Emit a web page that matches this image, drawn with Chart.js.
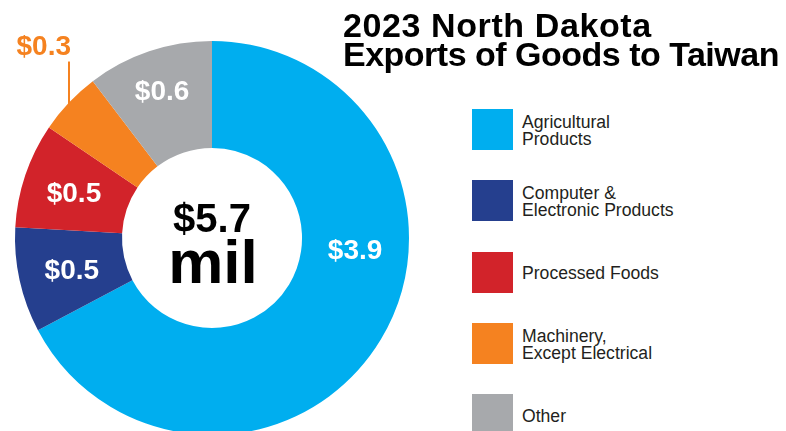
<!DOCTYPE html>
<html>
<head>
<meta charset="utf-8">
<script src="https://cdn.jsdelivr.net/npm/chart.js@4.4.1/dist/chart.umd.min.js"></script>
<style>
    html, body {
        margin: 0;
        padding: 0;
        width: 786px;
        height: 431px;
        overflow: hidden;
        background: #fff;
        font-family: "Liberation Sans", Arial, sans-serif;
    }
    .chart-box {
        position: absolute;
        left: 0;
        top: 0;
        width: 420px;
        height: 440px;
    }
    .title {
        position: absolute;
        left: 343px;
        top: 11px;
        font-size: 34px;
        line-height: 29px;
        font-weight: bold;
        color: #000;
        white-space: nowrap;
    }
    .title .l1 { letter-spacing: 0.6px; }
    .title .l2 { letter-spacing: -0.5px; }
    .legend {
        position: absolute;
        left: 472px;
        top: 109px;
    }
    .legend-row {
        display: flex;
        align-items: center;
        height: 41px;
        margin-bottom: 30.3px;
    }
    .legend-swatch {
        width: 41px;
        height: 41px;
        flex: none;
    }
    .legend-text {
        margin-left: 9px;
        padding-top: 3px;
        font-size: 17.6px;
        line-height: 17px;
        color: #231f20;
        letter-spacing: 0px;
    }
</style>
</head>
<body>
<div class="chart-box"><canvas id="exportsChart"></canvas></div>
<div class="title"><div class="l1">2023 North Dakota</div><div class="l2">Exports of Goods to Taiwan</div></div>
<div class="legend" id="legend"></div>

<script>
// Data
const categories = ['Agricultural Products', 'Computer & Electronic Products', 'Processed Foods', 'Machinery, Except Electrical', 'Other'];
const legendLines = [['Agricultural', 'Products'], ['Computer &', 'Electronic Products'], ['Processed Foods'], ['Machinery,', 'Except Electrical'], ['Other']];
const values = [3.9, 0.5, 0.5, 0.3, 0.6];
const colors = ['#00aeef', '#253f8e', '#d2232a', '#f58220', '#a7a9ac'];
const totalLabel = ['$5.7', 'mil'];

// Build the legend
const legendEl = document.getElementById('legend');
categories.forEach((cat, i) => {
    const row = document.createElement('div');
    row.className = 'legend-row';
    row.innerHTML = `
        <div class="legend-swatch" style="background:${colors[i]}"></div>
        <div class="legend-text">${legendLines[i].map(s => s.replace('&', '&amp;')).join('<br>')}</div>
    `;
    legendEl.appendChild(row);
});

// label placement inside each slice: fraction along the arc, fraction across the ring
const labelAngleFrac = [0.39, 0.5, 0.5, 0.5, 0.5];
const labelRadiusFrac = [0.5, 0.5, 0.52, 0.5, 0.62];
const outsideIndex = 3;

const sliceLabels = {
    id: 'sliceLabels',
    afterDatasetsDraw(chart) {
        const ctx = chart.ctx;
        const meta = chart.getDatasetMeta(0);
        const fs = 28;
        ctx.save();
        ctx.font = `bold ${fs}px "Liberation Sans", Arial, sans-serif`;
        meta.data.forEach((arc, i) => {
            const p = arc.getProps(['x', 'y', 'startAngle', 'endAngle', 'innerRadius', 'outerRadius'], true);
            const text = '$' + values[i].toFixed(1);
            if (i === outsideIndex) {
                // leader line up from the middle of the slice
                const mid = (p.startAngle + p.endAngle) / 2;
                const x0 = p.x + Math.cos(mid) * p.outerRadius;
                const y0 = p.y + Math.sin(mid) * p.outerRadius;
                ctx.strokeStyle = colors[i];
                ctx.lineWidth = 2;
                ctx.beginPath();
                ctx.moveTo(x0, y0 + 2);
                ctx.lineTo(x0, y0 - 41);
                ctx.stroke();
                ctx.fillStyle = colors[i];
                ctx.textAlign = 'right';
                ctx.textBaseline = 'alphabetic';
                ctx.fillText(text, x0 + 2, y0 - 48);
                return;
            }
            const a = p.startAngle + (p.endAngle - p.startAngle) * labelAngleFrac[i];
            const r = p.innerRadius + (p.outerRadius - p.innerRadius) * labelRadiusFrac[i];
            ctx.fillStyle = '#fff';
            ctx.textAlign = 'center';
            ctx.textBaseline = 'alphabetic';
            ctx.fillText(text, p.x + Math.cos(a) * r, p.y + Math.sin(a) * r + fs * 0.36);
        });

        // total in the hole
        const c = meta.data[0];
        ctx.fillStyle = '#000';
        ctx.textAlign = 'center';
        ctx.font = 'bold 40px "Liberation Sans", Arial, sans-serif';
        ctx.fillText(totalLabel[0], c.x, c.y - 6);
        ctx.font = 'bold 62px "Liberation Sans", Arial, sans-serif';
        ctx.fillText(totalLabel[1], c.x + 1, c.y + 45);
        ctx.restore();
    }
};

new Chart(document.getElementById('exportsChart'), {
    type: 'doughnut',
    data: {
        labels: categories,
        datasets: [{
            data: values,
            backgroundColor: colors,
            borderWidth: 0
        }]
    },
    options: {
        responsive: true,
        maintainAspectRatio: false,
        animation: false,
        cutout: '45.7%',
        layout: {
            padding: { left: 15, top: 41, right: 11, bottom: 5 }
        },
        plugins: {
            legend: { display: false },
            tooltip: { enabled: false }
        }
    },
    plugins: [sliceLabels]
});
</script>
</body>
</html>
